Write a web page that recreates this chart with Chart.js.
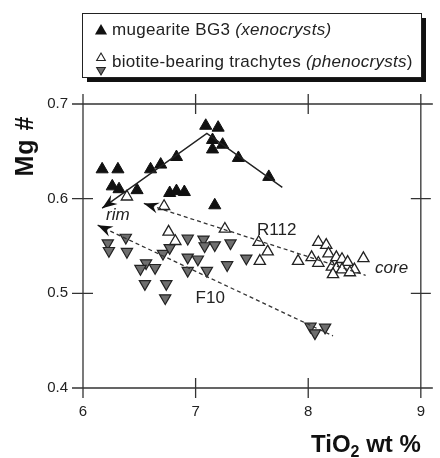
<!DOCTYPE html>
<html>
<head>
<meta charset="utf-8">
<script src="https://cdn.jsdelivr.net/npm/chart.js@4.4.0/dist/chart.umd.min.js"></script>
<style>
  html, body { margin: 0; padding: 0; background: #fff; }
  canvas { display: block; }
</style>
</head>
<body>
<canvas id="myChart" width="440" height="458"></canvas>
<script>
// mugearite BG3 xenocrysts (black, up)
var mugX = [6.17, 6.31, 6.26, 6.32, 6.48, 6.60, 6.69, 6.83, 6.77, 6.83, 6.90, 7.09, 7.20, 7.15, 7.15, 7.24, 7.38, 7.65, 7.17];
var mugY = [0.631, 0.631, 0.613, 0.610, 0.609, 0.631, 0.636, 0.644, 0.606, 0.608, 0.607, 0.677, 0.675, 0.662, 0.652, 0.657, 0.643, 0.623, 0.593];

// biotite-bearing trachytes, R112 (white, up)
var whiteX = [6.39, 6.72, 6.76, 6.82, 7.26, 7.56, 7.64, 7.57, 7.91, 8.03, 8.09, 8.16, 8.18, 8.25, 8.30, 8.35, 8.49, 8.09, 8.21, 8.25, 8.30, 8.41, 8.22, 8.37];
var whiteY = [0.602, 0.592, 0.565, 0.555, 0.568, 0.554, 0.544, 0.534, 0.534, 0.538, 0.554, 0.551, 0.542, 0.538, 0.536, 0.533, 0.537, 0.532, 0.528, 0.526, 0.525, 0.525, 0.520, 0.522];

// biotite-bearing trachytes, F10 (grey, down)
var greyX = [6.22, 6.23, 6.38, 6.39, 6.56, 6.51, 6.64, 6.55, 6.74, 6.73, 6.71, 6.77, 6.93, 7.07, 7.08, 7.17, 7.31, 6.93, 7.02, 6.93, 7.10, 7.28, 7.45, 8.02, 8.15, 8.06];
var greyY = [0.553, 0.545, 0.559, 0.544, 0.532, 0.526, 0.527, 0.510, 0.510, 0.495, 0.542, 0.548, 0.558, 0.557, 0.550, 0.551, 0.553, 0.538, 0.536, 0.524, 0.524, 0.530, 0.537, 0.465, 0.464, 0.458];

// trend lines, first point = arrow tip (rim)
var mugTrendX = [6.17, 7.10, 7.77];
var mugTrendY = [0.590, 0.669, 0.612];
var r112TrendX = [6.54, 8.51];
var r112TrendY = [0.595, 0.519];
var f10TrendX = [6.13, 8.22];
var f10TrendY = [0.572, 0.455];

// text labels in the plot
var noteText = ['rim', 'R112', 'core', 'F10'];
var noteX = [6.31, 7.72, 8.74, 7.13];
var noteY = [0.582, 0.567, 0.527, 0.495];
var noteItalic = [true, false, true, false];

var xTicks = [6, 7, 8, 9];
var yTicks = [0.4, 0.5, 0.6, 0.7];

function pts(xs, ys) {
    return xs.map(function (x, i) { return { x: x, y: ys[i] }; });
}

var FONT = '"Liberation Sans", Arial, Helvetica, sans-serif';
var INK = '#222';

function tri(ctx, x, y, r, down) {
    var s = down ? -1 : 1;
    ctx.beginPath();
    ctx.moveTo(x, y - s * r);
    ctx.lineTo(x + r * 0.866, y + s * r / 2);
    ctx.lineTo(x - r * 0.866, y + s * r / 2);
    ctx.closePath();
}

function arrowHead(ctx, tip, from) {
    var a = Math.atan2(tip.y - from.y, tip.x - from.x);
    ctx.save();
    ctx.translate(tip.x, tip.y);
    ctx.rotate(a);
    ctx.beginPath();
    ctx.moveTo(0, 0);
    ctx.lineTo(-15, -5.5);
    ctx.lineTo(-10, 0);
    ctx.lineTo(-15, 5.5);
    ctx.closePath();
    ctx.fillStyle = '#111';
    ctx.fill();
    ctx.restore();
}

var framePlugin = {
    id: 'frame',
    afterDatasetsDraw: function (chart) {
        var ctx = chart.ctx;
        var a = chart.chartArea;
        var sx = chart.scales.x, sy = chart.scales.y;

        // arrow heads at the rim end of each trend line
        chart.data.datasets.forEach(function (ds, i) {
            if (!ds.arrow) return;
            var d = chart.getDatasetMeta(i).data;
            arrowHead(ctx, d[0], d[1]);
        });

        // box with crossing ticks
        ctx.save();
        ctx.strokeStyle = '#333';
        ctx.lineWidth = 1.3;
        ctx.beginPath();
        ctx.moveTo(a.left, a.top - 10); ctx.lineTo(a.left, a.bottom + 10);
        ctx.moveTo(a.right, a.top - 10); ctx.lineTo(a.right, a.bottom + 10);
        ctx.moveTo(a.left - 11, a.top); ctx.lineTo(a.right + 12, a.top);
        ctx.moveTo(a.left - 11, a.bottom); ctx.lineTo(a.right + 12, a.bottom);
        xTicks.forEach(function (v) {
            var px = sx.getPixelForValue(v);
            ctx.moveTo(px, a.bottom - 10); ctx.lineTo(px, a.bottom + 10);
            ctx.moveTo(px, a.top - 10); ctx.lineTo(px, a.top + 10);
        });
        yTicks.forEach(function (v) {
            var py = sy.getPixelForValue(v);
            ctx.moveTo(a.left - 11, py); ctx.lineTo(a.left + 10, py);
            ctx.moveTo(a.right - 10, py); ctx.lineTo(a.right + 10, py);
        });
        ctx.stroke();

        // notes
        ctx.fillStyle = INK;
        ctx.textAlign = 'center';
        ctx.textBaseline = 'middle';
        noteText.forEach(function (t, i) {
            ctx.font = (noteItalic[i] ? 'italic ' : '') + '17px ' + FONT;
            ctx.fillText(t, sx.getPixelForValue(noteX[i]), sy.getPixelForValue(noteY[i]));
        });

        // axis titles
        ctx.fillStyle = '#111';
        ctx.save();
        ctx.translate(33, 146);
        ctx.rotate(-Math.PI / 2);
        ctx.textAlign = 'center';
        ctx.textBaseline = 'alphabetic';
        ctx.font = 'bold 25px ' + FONT;
        ctx.letterSpacing = '1px';
        ctx.fillText('Mg #', 0, 0);
        ctx.restore();

        ctx.textAlign = 'left';
        ctx.textBaseline = 'alphabetic';
        var big = 'bold 24px ' + FONT, small = 'bold 16px ' + FONT;
        ctx.font = big; var w1 = ctx.measureText('TiO').width;
        ctx.font = small; var w2 = ctx.measureText('2').width;
        ctx.font = big; var w3 = ctx.measureText(' wt %').width;
        var x0 = a.right - (w1 + w2 + w3), base = 452;
        ctx.font = big; ctx.fillText('TiO', x0, base);
        ctx.font = small; ctx.fillText('2', x0 + w1, base + 5);
        ctx.font = big; ctx.fillText(' wt %', x0 + w1 + w2, base);

        // legend box
        ctx.fillStyle = '#111';
        ctx.fillRect(87, 18, 339, 64);
        ctx.fillStyle = '#fff';
        ctx.fillRect(82, 13, 339, 64);
        ctx.lineWidth = 1;
        ctx.strokeStyle = '#222';
        ctx.strokeRect(82.5, 13.5, 339, 64);

        tri(ctx, 101, 31, 7, false);
        ctx.fillStyle = '#111'; ctx.fill();
        tri(ctx, 101, 58, 5, false);
        ctx.fillStyle = '#fff'; ctx.fill(); ctx.lineWidth = 1.1; ctx.stroke();
        tri(ctx, 101, 70, 5, true);
        ctx.fillStyle = '#6e6e6e'; ctx.fill(); ctx.stroke();

        ctx.letterSpacing = '0.3px';
        ctx.fillStyle = INK;
        function row(parts, y) {
            var x = 112;
            parts.forEach(function (p) {
                ctx.font = (p[1] ? 'italic ' : '') + '17px ' + FONT;
                ctx.fillText(p[0], x, y);
                x += ctx.measureText(p[0]).width;
            });
        }
        row([['mugearite BG3 ', false], ['(xenocrysts)', true]], 35);
        row([['biotite-bearing trachytes ', false], ['(phenocrysts', true], [')', false]], 67);
        ctx.restore();
    }
};

var ctx = document.getElementById('myChart').getContext('2d');
var myChart = new Chart(ctx, {
    type: 'scatter',
    data: {
        datasets: [{
            label: 'mugearite BG3 (xenocrysts)',
            data: pts(mugX, mugY),
            pointStyle: 'triangle',
            pointRadius: 7,
            backgroundColor: '#111',
            borderColor: '#111',
            borderWidth: 1,
            order: 2
        }, {
            label: 'R112',
            data: pts(whiteX, whiteY),
            pointStyle: 'triangle',
            pointRadius: 6.5,
            backgroundColor: '#fff',
            borderColor: '#222',
            borderWidth: 1.3,
            order: 2
        }, {
            label: 'F10',
            data: pts(greyX, greyY),
            pointStyle: 'triangle',
            pointRotation: 180,
            pointRadius: 6.5,
            backgroundColor: '#6e6e6e',
            borderColor: '#222',
            borderWidth: 1.2,
            order: 2
        }, {
            data: pts(mugTrendX, mugTrendY),
            showLine: true,
            pointRadius: 0,
            borderColor: '#222',
            borderWidth: 1.4,
            arrow: true,
            order: 0
        }, {
            data: pts(r112TrendX, r112TrendY),
            showLine: true,
            pointRadius: 0,
            borderColor: '#333',
            borderWidth: 1.3,
            borderDash: [4, 3],
            arrow: true,
            order: 0
        }, {
            data: pts(f10TrendX, f10TrendY),
            showLine: true,
            pointRadius: 0,
            borderColor: '#333',
            borderWidth: 1.3,
            borderDash: [4, 3],
            arrow: true,
            order: 0
        }]
    },
    options: {
        responsive: false,
        animation: false,
        layout: { padding: { top: 104, right: 12, left: 0, bottom: 0 } },
        plugins: {
            legend: { display: false },
            tooltip: { enabled: false }
        },
        scales: {
            x: {
                type: 'linear',
                min: 6, max: 9,
                afterFit: function (s) { s.height = 70; },
                afterBuildTicks: function (s) { s.ticks = xTicks.map(function (v) { return { value: v }; }); },
                grid: { display: false, drawTicks: false },
                border: { display: false },
                ticks: { padding: 15, color: INK, font: { family: FONT, size: 15 } }
            },
            y: {
                type: 'linear',
                min: 0.4, max: 0.7,
                afterFit: function (s) { s.width = 83; },
                afterBuildTicks: function (s) { s.ticks = yTicks.map(function (v) { return { value: v }; }); },
                grid: { display: false, drawTicks: false },
                border: { display: false },
                ticks: {
                    padding: 15, color: INK, font: { family: FONT, size: 15 },
                    callback: function (v) { return v.toFixed(1); }
                }
            }
        }
    },
    plugins: [framePlugin]
});
</script>
</body>
</html>
